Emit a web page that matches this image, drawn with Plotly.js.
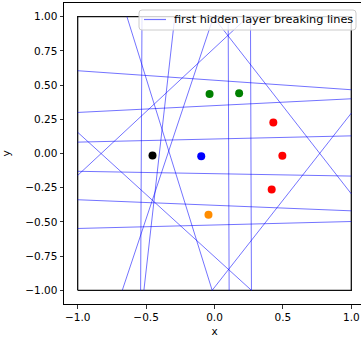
<!DOCTYPE html>
<html>
<head>
<meta charset="utf-8">
<script src="https://cdn.plot.ly/plotly-3.0.0.min.js"></script>
<style>
html, body { margin: 0; padding: 0; overflow: hidden; background: #fff; }
#chart { width: 370px; height: 340px; }
</style>
</head>
<body>
<div id="chart"></div>
<script>
// Breaking lines: start (x0,y0) and end (x1,y1) on the [-1,1] square
const lineX0 = [-1, -1, -1, -1, -1, -1, -0.53, 0.10, 0.263, -0.64, -1, -0.017, -0.01, 0.245, -0.674, -0.29];
const lineY0 = [0.605, 0.30, 0.083, -0.13, -0.338, -0.548, 1, 1, 1, 1, 0.155, -1, 1, 1, -1, 1];
const lineX1 = [1, 1, 1, 1, 1, 1, -0.54, 0.107, 0.27, -0.017, 0.27, 1, 1, -1, -0.007, -0.516];
const lineY1 = [0.466, 0.40, 0.129, -0.165, -0.419, -0.497, -1, -1, -1, -1, -1, 0.295, -0.295, -0.16, 1, -1];

// Data points
const pointX = [-0.453, -0.097, -0.044, -0.036, 0.18, 0.43, 0.496, 0.418];
const pointY = [-0.015, -0.02, -0.447, 0.435, 0.44, 0.227, -0.017, -0.264];
const pointColor = ['black', 'blue', '#ff8c00', 'green', 'green', 'red', 'red', 'red'];

// Bounding square
const boxX = [-1, 1, 1, -1, -1];
const boxY = [-1, -1, 1, 1, -1];

// Ticks
const xTicks = [-1, -0.5, 0, 0.5, 1];
const yTicks = [-1, -0.75, -0.5, -0.25, 0, 0.25, 0.5, 0.75, 1];
const legendLabel = 'first hidden layer breaking lines';

const lx = [], ly = [];
for (let i = 0; i < lineX0.length; i++) {
  lx.push(lineX0[i], lineX1[i], null);
  ly.push(lineY0[i], lineY1[i], null);
}

const W = 370, H = 340, ML = 64, MR = 5, MT = 3, MB = 36;
const PW = W - ML - MR, PH = H - MT - MB;
const px = v => (v - ML) / PW;          // pixel -> paper x
const py = v => (H - MB - v) / PH;      // pixel -> paper y

const tickFont = { family: 'DejaVu Sans', size: 10.5, color: '#000' };
const legFont = { family: 'DejaVu Sans', size: 11.3, color: '#000' };
const lineColor = 'rgba(0,0,255,0.55)';

const traces = [
  {
    x: boxX, y: boxY, mode: 'lines', type: 'scatter',
    line: { color: '#111', width: 1.3 }, showlegend: false, hoverinfo: 'skip'
  },
  {
    x: lx, y: ly, mode: 'lines', type: 'scatter',
    name: legendLabel,
    line: { color: lineColor, width: 1 }, showlegend: false,
    connectgaps: false
  },
  {
    x: pointX, y: pointY, mode: 'markers', type: 'scatter',
    marker: { color: pointColor, size: 8 }, showlegend: false
  }
];

const axisCommon = {
  showgrid: false, zeroline: false, showline: true, mirror: true,
  linecolor: '#000', linewidth: 1,
  ticks: 'outside', ticklen: 3.5, tickwidth: 0.8, tickcolor: '#000',
  tickfont: tickFont, range: [-1.1, 1.1], tickmode: 'array'
};

// legend box (rounded rectangle) in pixel coordinates
const bx0 = 139, bx1 = 356, by0 = 10, by1 = 30, r = 3;
const legendPath =
  `M ${px(bx0 + r)},${py(by0)} L ${px(bx1 - r)},${py(by0)} Q ${px(bx1)},${py(by0)} ${px(bx1)},${py(by0 + r)} ` +
  `L ${px(bx1)},${py(by1 - r)} Q ${px(bx1)},${py(by1)} ${px(bx1 - r)},${py(by1)} ` +
  `L ${px(bx0 + r)},${py(by1)} Q ${px(bx0)},${py(by1)} ${px(bx0)},${py(by1 - r)} ` +
  `L ${px(bx0)},${py(by0 + r)} Q ${px(bx0)},${py(by0)} ${px(bx0 + r)},${py(by0)} Z`;

const layout = {
  width: W, height: H,
  margin: { l: ML, r: MR, t: MT, b: MB },
  paper_bgcolor: '#fff', plot_bgcolor: '#fff',
  font: tickFont,
  showlegend: false,
  xaxis: Object.assign({}, axisCommon, {
    tickvals: xTicks, ticktext: xTicks.map(v => (v < 0 ? '\u2212' : '') + Math.abs(v).toFixed(1)),
    title: { text: 'x', font: tickFont, standoff: 5 }
  }),
  yaxis: Object.assign({}, axisCommon, {
    tickvals: yTicks, ticktext: yTicks.map(v => (v < 0 ? '\u2212' : '') + Math.abs(v).toFixed(2)),
    title: { text: 'y', font: tickFont, standoff: 13 }
  }),
  shapes: [
    {
      type: 'path', xref: 'paper', yref: 'paper', path: legendPath,
      fillcolor: 'rgba(255,255,255,0.8)', line: { color: '#cccccc', width: 1 }, layer: 'above'
    },
    {
      type: 'line', xref: 'paper', yref: 'paper',
      x0: px(144), x1: px(166), y0: py(19.5), y1: py(19.5),
      line: { color: lineColor, width: 1.2 }, layer: 'above'
    }
  ],
  annotations: [
    {
      xref: 'paper', yref: 'paper', x: px(172), y: py(19.5),
      xanchor: 'left', yanchor: 'middle', showarrow: false,
      text: legendLabel, font: legFont
    }
  ]
};

Plotly.newPlot('chart', traces, layout, { displayModeBar: false, staticPlot: true });
</script>
</body>
</html>
